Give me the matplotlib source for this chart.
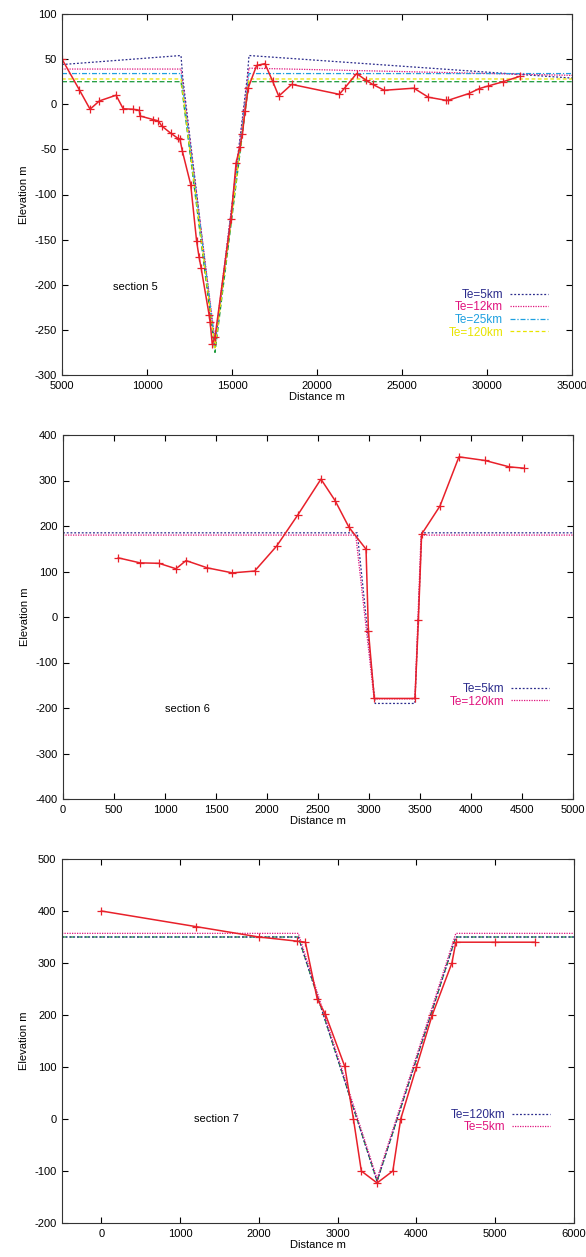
import matplotlib
matplotlib.use("Agg")
import matplotlib.pyplot as plt

plt.rcParams['font.family'] = ['Liberation Sans', 'DejaVu Sans']
plt.rcParams['axes.unicode_minus'] = False

# ---- section 5 ----
s5_x = [5000, 6020, 6650, 7200, 8180, 8600, 9160, 9550, 9590, 10370, 10670, 10860,
        11390, 11800, 11940, 12080, 12570, 12920, 13060, 13180, 13650, 13710, 13840,
        14000, 14940, 15240, 15470, 15610, 15770, 15960, 16450, 16940, 17390, 17750,
        18510, 21310, 21650, 22330, 22880, 23270, 23960, 25700, 26550, 27570, 27720,
        28940, 29550, 30080, 30920, 31940]
s5_y = [50, 16, -5.5, 3.7, 10, -5, -5.5, -6.7, -13, -17, -18.5, -24,
        -32, -37.5, -39, -52, -89, -152, -169, -181, -233, -241, -266,
        -258, -127, -65, -47, -33, -7, 18.5, 43, 45, 25.5, 9,
        22, 11, 18.5, 34, 26.7, 22, 15.5, 17.8, 7.8, 4.4, 4.4,
        11.9, 17.4, 20.3, 24.8, 31]

s5_te5_x = [5000, 12000, 12100, 14000, 15900, 16000, 35000]
s5_te5_y = [44, 54, 30, -268, 30, 54, 29]
s5_te12_x = [5000, 12000, 14000, 16000, 35000]
s5_te12_y = [39, 39, -262, 40, 32]
s5_te25_x = [5000, 12000, 14000, 16000, 35000]
s5_te25_y = [34, 34, -265, 34, 34]
s5_te120_x = [5000, 12000, 14000, 16000, 35000]
s5_te120_y = [28, 28, -270, 28, 28]
s5_extra_x = [5000, 12000, 14000, 16000, 35000]
s5_extra_y = [25, 25, -275, 25, 25]

# ---- section 6 ----
s6_x = [542, 755, 941, 1108, 1206, 1415, 1660, 1879, 2095, 2301, 2529, 2667, 2804,
        2971, 2994, 3052, 3451, 3484, 3516, 3696, 3882, 4137, 4375, 4520]
s6_y = [130, 119, 118, 106, 124, 108, 97, 101, 156, 224, 303, 256, 197,
        149, -30, -179, -179, -7, 182, 244, 352, 344, 330, 327]
s6_te5_x = [0, 2885, 3060, 3450, 3516, 5000]
s6_te5_y = [185, 185, -190, -190, 185, 185]
s6_te120_x = [0, 2870, 3050, 3450, 3510, 5000]
s6_te120_y = [180, 180, -180, -180, 180, 180]

# ---- section 7 ----
s7_x = [0, 1200, 2000, 2485, 2590, 2740, 2845, 3090, 3200, 3300, 3500, 3700, 3800,
        4000, 4200, 4450, 4500, 5000, 5500]
s7_y = [400, 370, 350, 342, 340, 231, 201, 101, 0, -100, -123, -100, 0,
        100, 200, 300, 340, 340, 340]
s7_te120_x = [-500, 2500, 3500, 4500, 6000]
s7_te120_y = [350, 350, -120, 350, 350]
s7_te5_x = [-500, 2500, 3500, 4500, 6000]
s7_te5_y = [357, 357, -115, 357, 357]

RED = '#e8202a'
NAVY = '#2b2b8c'
MAG = '#e0147e'
CYAN = '#1ea0e0'
YEL = '#e8e400'
GRN = '#1a9a3a'

fig = plt.figure(figsize=(5.86, 12.57), dpi=100)


def style(ax, xlim, ylim, xt, yt):
    ax.set_xlim(*xlim)
    ax.set_ylim(*ylim)
    ax.set_xticks(xt)
    ax.set_yticks(yt)
    ax.tick_params(direction='in', top=True, right=True, labelsize=8, length=4,
                   width=0.8, pad=4)
    for s in ax.spines.values():
        s.set_linewidth(0.8)
        s.set_color('#333333')
    ax.set_xlabel('Distance m', fontsize=8, labelpad=1)
    ax.set_ylabel('Elevation m', fontsize=8, labelpad=4)


def legend(ax, colors, anchor):
    leg = ax.legend(loc='upper right', bbox_to_anchor=anchor, frameon=False,
                    markerfirst=False, fontsize=8.5, handlelength=3.2,
                    handletextpad=0.6, labelspacing=0.05, borderpad=0,
                    labelcolor=colors)
    return leg


# panel 1
ax1 = fig.add_axes([62 / 586, 1 - 375 / 1257, 510 / 586, 361 / 1257])
ax1.plot(s5_extra_x, s5_extra_y, color=GRN, lw=0.9, ls=(0, (4, 2)))
ax1.plot(s5_te5_x, s5_te5_y, color=NAVY, lw=0.9, ls=(0, (1.5, 1.5)), label='Te=5km')
ax1.plot(s5_te12_x, s5_te12_y, color=MAG, lw=0.9, ls=(0, (1, 1)), label='Te=12km')
ax1.plot(s5_te25_x, s5_te25_y, color=CYAN, lw=0.9, ls=(0, (4, 1.5, 1, 1.5)), label='Te=25km')
ax1.plot(s5_te120_x, s5_te120_y, color=YEL, lw=0.9, ls=(0, (3, 2)), label='Te=120km')
ax1.plot(s5_x, s5_y, color=RED, lw=1.1, marker='+', ms=6, mew=0.9)
style(ax1, (5000, 35000), (-300, 100), range(5000, 35001, 5000), range(-300, 101, 50))
legend(ax1, [NAVY, MAG, CYAN, YEL], (0.965, 0.255))
ax1.text(8000, -202, 'section 5', fontsize=8, va='center')

# panel 2
ax2 = fig.add_axes([63 / 586, 1 - 799 / 1257, 510 / 586, 364 / 1257])
ax2.plot(s6_te5_x, s6_te5_y, color=NAVY, lw=0.9, ls=(0, (1.5, 1.5)), label='Te=5km')
ax2.plot(s6_te120_x, s6_te120_y, color=MAG, lw=0.9, ls=(0, (1, 1)), label='Te=120km')
ax2.plot(s6_x, s6_y, color=RED, lw=1.1, marker='+', ms=6, mew=0.9)
style(ax2, (0, 5000), (-400, 400), range(0, 5001, 500), range(-400, 401, 100))
legend(ax2, [NAVY, MAG], (0.965, 0.335))
ax2.text(1000, -202, 'section 6', fontsize=8, va='center')

# panel 3
ax3 = fig.add_axes([62 / 586, 1 - 1223 / 1257, 512 / 586, 364 / 1257])
ax3.plot(s7_te120_x, s7_te120_y, color=GRN, lw=0.9, ls=(0, (4, 2)))
ax3.plot(s7_te120_x, s7_te120_y, color=NAVY, lw=0.9, ls=(0, (1.5, 1.5)), label='Te=120km')
ax3.plot(s7_te5_x, s7_te5_y, color=MAG, lw=0.9, ls=(0, (1, 1)), label='Te=5km')
ax3.plot(s7_x, s7_y, color=RED, lw=1.1, marker='+', ms=6, mew=0.9)
style(ax3, (-500, 6000), (-200, 500), range(0, 6001, 1000), range(-200, 501, 100))
legend(ax3, [NAVY, MAG], (0.965, 0.33))
ax3.text(1180, 0, 'section 7', fontsize=8, va='center')

fig.savefig('out.png', dpi=100)
